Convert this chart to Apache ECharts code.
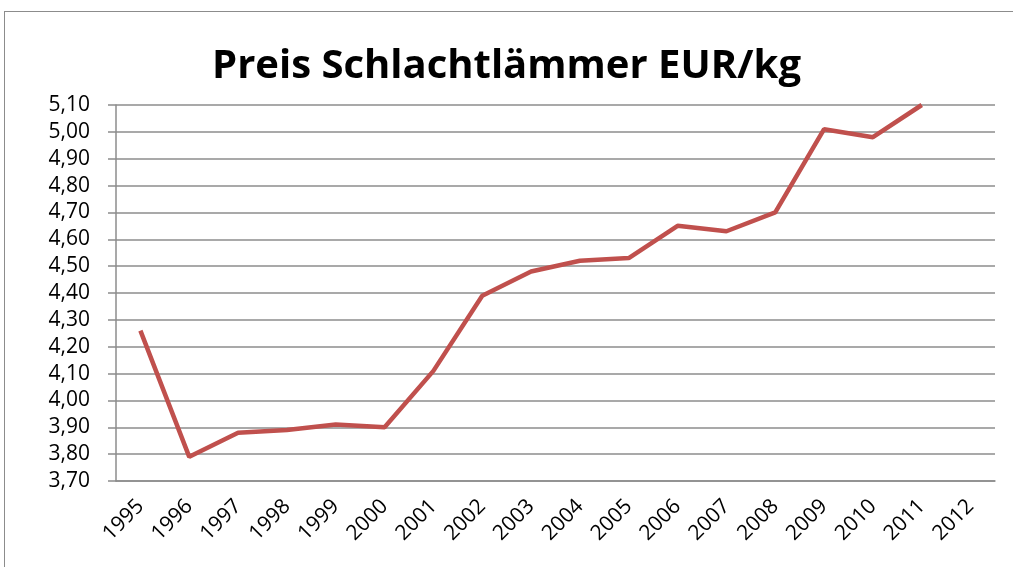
<!DOCTYPE html>
<html>
<head>
<meta charset="utf-8">
<script src="https://cdn.jsdelivr.net/npm/echarts@6/dist/echarts.min.js"></script>
<style>
  html, body { margin: 0; padding: 0; background: #fff; }
  #frame {
    position: absolute; left: 4px; top: 11px; width: 1020px; height: 570px;
    border: 1px solid #8c8c8c;
  }
  #chart { position: absolute; left: 0; top: 0; width: 1013px; height: 567px; }
</style>
</head>
<body>
<div id="frame"></div>
<div id="chart"></div>
<script>
// Jahre und Preise (EUR/kg)
var years = ["1995", "1996", "1997", "1998", "1999", "2000", "2001", "2002", "2003",
  "2004", "2005", "2006", "2007", "2008", "2009", "2010", "2011", "2012"];
var prices = [4.26, 3.79, 3.88, 3.89, 3.91, 3.90, 4.11, 4.39, 4.48,
  4.52, 4.53, 4.65, 4.63, 4.70, 5.01, 4.98, 5.10, null];

var myChart = echarts.init(document.getElementById("chart"));
var option = {
  animation: false,
  title: {
    text: "Preis Schlachtlämmer EUR/kg",
    left: "center",
    top: 42,
    textStyle: {
      fontFamily: "Open Sans",
      fontWeight: "bold",
      fontSize: 40,
      color: "#000"
    }
  },
  grid: {
    left: 116,
    right: 18,
    top: 105,
    bottom: 86
  },
  xAxis: {
    type: "category",
    data: years,
    boundaryGap: true,
    axisLine: { lineStyle: { color: "#8c8c8c", width: 1.5 } },
    axisTick: { show: false },
    axisLabel: {
      rotate: 45,
      interval: 0,
      color: "#000",
      fontFamily: "Open Sans",
      fontSize: 21,
      margin: 22
    }
  },
  yAxis: {
    type: "value",
    min: 3.7,
    max: 5.1,
    interval: 0.1,
    axisLine: { show: true, lineStyle: { color: "#8c8c8c", width: 1.5 } },
    axisTick: { show: true, length: 8, lineStyle: { color: "#8c8c8c", width: 1.5 } },
    axisLabel: {
      color: "#000",
      fontFamily: "Open Sans",
      fontSize: 21,
      margin: 26,
      formatter: function(v) {
        return v.toFixed(2).replace(".", ",");
      }
    },
    splitLine: { lineStyle: { color: "#8c8c8c", width: 1.5 } }
  },
  series: [
    {
      type: "line",
      data: prices,
      symbol: "none",
      lineStyle: { color: "#c0504d", width: 4.5 },
      clip: true
    }
  ]
};
myChart.setOption(option);
</script>
</body>
</html>
